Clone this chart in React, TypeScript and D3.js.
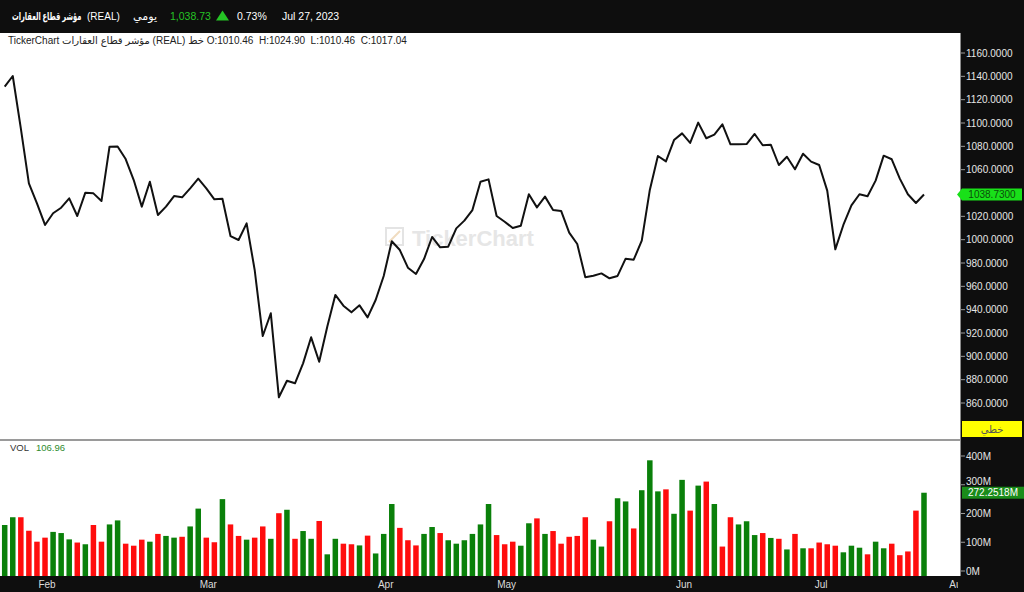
import React from 'react';
import * as d3 from 'd3';

const closes: number[] = [
  1131.1, 1140.3, 1095.4, 1048.3, 1031.1, 1012.6, 1022.6, 1027.4, 1035.4, 1020.3,
  1040.3, 1039.7, 1033.1, 1079.7, 1079.9, 1069.1, 1051.1, 1028.3, 1049.7, 1021.1,
  1028.3, 1037.4, 1036.3, 1044.0, 1052.3, 1044.0, 1034.6, 1035.0, 1003.1, 999.7,
  1014.0, 974.0, 917.4, 936.9, 864.9, 879.1, 876.9, 894.0, 916.3, 895.4,
  925.4, 952.6, 943.4, 937.7, 943.7, 933.4, 948.3, 968.9, 998.6, 991.1,
  976.0, 970.6, 983.4, 1002.3, 993.4, 994.0, 1009.7, 1016.3, 1025.4, 1049.7,
  1051.7, 1020.3, 1015.4, 1010.0, 1012.0, 1038.9, 1027.7, 1036.9, 1025.4, 1024.6,
  1006.0, 996.3, 967.7, 969.1, 971.1, 966.9, 968.9, 983.7, 982.8, 999.1,
  1042.6, 1071.7, 1067.1, 1085.4, 1091.1, 1082.9, 1100.3, 1086.9, 1090.0, 1098.9,
  1081.7, 1081.7, 1081.9, 1090.6, 1080.9, 1081.4, 1064.0, 1071.1, 1060.3, 1073.7,
  1066.9, 1064.0, 1042.0, 991.7, 1012.6, 1029.4, 1038.9, 1037.2, 1050.6, 1072.0,
  1068.9, 1052.3, 1038.9, 1031.4, 1038.73,
];

// volume in millions
const volumes: number[] = [
  160, 187, 187, 140, 102, 116, 136, 132, 110, 99,
  93, 160, 102, 162, 176, 95, 88, 109, 102, 129,
  122, 116, 119, 155, 217, 116, 100, 250, 162, 122,
  109, 116, 155, 112, 201, 213, 112, 139, 112, 174,
  58, 112, 95, 93, 89, 123, 61, 129, 233, 150,
  107, 89, 129, 153, 132, 107, 95, 107, 129, 162,
  233, 125, 93, 102, 88, 166, 183, 129, 139, 95,
  119, 122, 187, 109, 85, 173, 253, 242, 148, 281,
  385, 277, 284, 199, 317, 210, 297, 311, 233, 85,
  187, 162, 173, 125, 132, 115, 112, 75, 129, 79,
  79, 99, 93, 88, 65, 88, 81, 58, 102, 79,
  95, 55, 68, 210, 272.2518,
];

// G = up (green), R = down (red)
const volDirections: string[] = [
  'G','G','R','R','R','R','G','G','G','R',
  'G','R','R','G','G','R','R','R','G','R',
  'G','G','R','G','G','R','R','G','R','R',
  'G','R','R','G','R','G','R','G','G','R',
  'G','G','R','R','G','R','G','G','G','R',
  'R','R','G','G','R','G','G','G','G','G',
  'G','R','R','R','G','G','R','G','R','R',
  'R','R','R','G','G','R','G','G','R','G',
  'G','G','R','G','G','R','G','R','G','R',
  'R','G','G','G','R','G','R','G','R','G',
  'R','R','R','R','G','G','G','R','G','G',
  'R','R','R','R','G',
];

const monthLabels: string[] = ['Feb', 'Mar', 'Apr', 'May', 'Jun', 'Jul', 'Aug'];
const monthStartIndex: number[] = [5, 25, 47, 62, 84, 101, 118];

const lastClose = 1038.73;
const lastVolume = 272.2518;

const FONT = "'Liberation Sans', 'DejaVu Sans', sans-serif";

export default function App() {
  const plotRight = 960;
  const priceTop = 34;
  const priceBottom = 439;
  const volBottom = 576;

  const x = d3.scaleLinear().domain([0, closes.length - 1]).range([4.7, 924]);
  const yP = d3.scaleLinear().domain([860, 1160]).range([403, 53]);
  const yV = d3.scaleLinear().domain([0, 400]).range([571, 456]);

  const line = d3
    .line<number>()
    .x((_, i) => x(i))
    .y((d) => yP(d));

  const fmt = d3.format('.4f');
  const lastY = yP(lastClose);
  const lastVY = yV(lastVolume);
  // the current-price marker hides the tick label under it
  const priceTicks = yP.ticks(15).filter((t) => Math.abs(yP(t) - lastY) > 8);
  const volTicks = yV.ticks(4);
  const barW = 5.5;

  return (
    <svg
      width={1024}
      height={592}
      style={{ position: 'absolute', left: 0, top: 0, background: '#fff' }}
      fontFamily={FONT}
    >
      <defs>
        <clipPath id="pclip">
          <rect x={0} y={priceTop} width={plotRight} height={priceBottom - priceTop} />
        </clipPath>
        <clipPath id="xclip">
          <rect x={0} y={576} width={958} height={16} />
        </clipPath>
      </defs>

      {/* backgrounds */}
      <rect x={0} y={0} width={1024} height={592} fill="#ffffff" />
      <rect x={0} y={0} width={1024} height={33} fill="#0e0e0e" />
      <rect x={plotRight} y={33} width={1024 - plotRight} height={559} fill="#0e0e0e" />
      <rect x={0} y={volBottom} width={1024} height={592 - volBottom} fill="#0e0e0e" />
      <line x1={plotRight + 0.5} x2={plotRight + 0.5} y1={33} y2={volBottom} stroke="#8a8a8a" strokeWidth={1} />
      <rect x={0} y={439} width={plotRight} height={2} fill="#9a9a9a" />

      {/* header */}
      <g fontSize={10.5} fill="#ffffff">
        <g transform="translate(12,20) scale(0.68,1)">
          <text x={0} y={0} fontSize={11} fontWeight="bold" textLength={102} lengthAdjust="spacingAndGlyphs">
            مؤشر قطاع العقارات
          </text>
        </g>
        <text x={87} y={20} fontSize={10}>(REAL)</text>
        <text x={133} y={20} fontSize={11} textLength={24} lengthAdjust="spacingAndGlyphs">يومي</text>
        <text x={170} y={20} fill="#25c425">1,038.73</text>
        <path d="M216,20.5 L229,20.5 L222.5,10.5 Z" fill="#25c425" />
        <text x={237} y={20}>0.73%</text>
        <text x={282} y={20}>Jul 27, 2023</text>
      </g>

      {/* legend */}
      <text x={8} y={44} fontSize={10} fill="#222" style={{ whiteSpace: 'pre' }}>
        {'TickerChart مؤشر قطاع العقارات (REAL) خط O:1010.46  H:1024.90  L:1010.46  C:1017.04'}
      </text>

      {/* watermark */}
      <g>
        <rect x={386} y={228} width={17} height={17} fill="none" stroke="#e4e4e4" strokeWidth={2} />
        <path d="M389,242 L400,231" stroke="#f0dcc0" strokeWidth={2} />
        <text x={412} y={246} fontSize={22} fontWeight="bold" fill="#e6e6e6" fontFamily="'Liberation Sans', sans-serif">
          TickerChart
        </text>
      </g>

      {/* price line */}
      <g clipPath="url(#pclip)">
        <path d={line(closes) || ''} fill="none" stroke="#111" strokeWidth={2} strokeLinejoin="round" />
      </g>

      {/* price axis */}
      <g fontSize={10} fill="#e6e6e6">
        {priceTicks.map((t) => (
          <g key={t}>
            <line x1={plotRight + 1} x2={plotRight + 5} y1={yP(t)} y2={yP(t)} stroke="#9a9a9a" />
            <text x={966} y={yP(t) + 3.5}>{fmt(t)}</text>
          </g>
        ))}
      </g>

      {/* last price label */}
      <path
        d={`M957,${lastY} L962,${lastY - 6} L1022,${lastY - 6} L1022,${lastY + 6} L962,${lastY + 6} Z`}
        fill="#19e019"
      />
      <text x={992} y={lastY + 3.5} fontSize={10} fill="#0b4d0b" textAnchor="middle">
        {fmt(lastClose)}
      </text>

      {/* chart type box */}
      <rect x={962} y={421} width={60} height={16} fill="#ffff00" />
      <text x={992} y={433} fontSize={10} fill="#555" textAnchor="middle">خطي</text>

      {/* volume panel */}
      <text x={10} y={451} fontSize={9.5} fill="#333">VOL</text>
      <text x={36} y={451} fontSize={9.5} fill="#2e8b2e">106.96</text>
      <g>
        {volumes.map((v, i) => (
          <rect
            key={i}
            x={x(i) - barW / 2}
            y={yV(v)}
            width={barW}
            height={volBottom - yV(v)}
            fill={volDirections[i] === 'G' ? '#0a800a' : '#ff0d0d'}
          />
        ))}
      </g>

      {/* volume axis */}
      <g fontSize={10} fill="#e6e6e6">
        {volTicks.map((t) => (
          <g key={t}>
            <line x1={plotRight + 1} x2={plotRight + 5} y1={yV(t)} y2={yV(t)} stroke="#9a9a9a" />
            <text x={966} y={yV(t) + (t === 300 ? 0 : 3.5)}>{`${t}M`}</text>
          </g>
        ))}
      </g>
      <rect x={962} y={lastVY - 6} width={62} height={12} fill="#1a8c1a" />
      <text x={993} y={lastVY + 3.5} fontSize={10} fill="#ffffff" textAnchor="middle">
        {`${lastVolume.toFixed(4)}M`}
      </text>

      {/* x axis */}
      <g clipPath="url(#xclip)" fontSize={10} fill="#dcdcdc">
        {monthLabels.map((m, k) => (
          <text key={m} x={x(monthStartIndex[k]) + 2} y={588} textAnchor="middle">{m}</text>
        ))}
      </g>
    </svg>
  );
}
